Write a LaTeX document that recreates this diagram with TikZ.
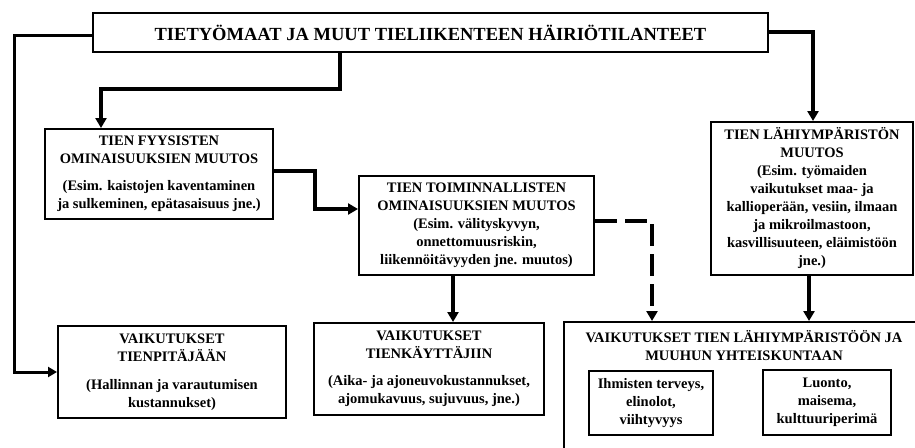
\documentclass[tikz,border=0pt]{standalone}
\usepackage{fontspec}
\setmainfont{Liberation Serif}
\usetikzlibrary{arrows.meta}
\tikzset{
  box/.style={draw=black, line width=2pt, align=center, inner sep=0pt, text=black,
    font=\bfseries\fontsize{14.5}{18}\selectfont},
  titlebox/.style={box, line width=2.8pt, font=\bfseries\fontsize{18.5}{22}\selectfont},
  txt/.style={align=center, inner sep=0pt, text=black, font=\bfseries\fontsize{14.5}{18}\selectfont},
  conn/.style={line width=3.6pt, -{Triangle[length=10pt,width=11pt]}},
  thinconn/.style={line width=3pt, -{Triangle[length=9pt,width=10pt]}},
  dashconn/.style={conn, dash pattern=on 22pt off 8pt}
}
\begin{document}
\begin{tikzpicture}[x=1pt,y=-1pt]
\path[use as bounding box, clip] (0,0) rectangle (915,447);
\fill[white] (0,0) rectangle (915,447);

\node[titlebox, minimum width=675pt, minimum height=39pt] (title) at (430.5,32.5)
  {TIETYÖMAAT JA MUUT TIELIIKENTEEN HÄIRIÖTILANTEET};

\node[box, minimum width=228pt, minimum height=90pt] (fyys) at (159,174)
  {TIEN FYYSISTEN\\OMINAISUUKSIEN MUUTOS\\[9pt](Esim. kaistojen kaventaminen\\ja sulkeminen, epätasaisuus jne.)};

\node[box, minimum width=235pt, minimum height=99pt] (toim) at (476.5,225.5)
  {TIEN TOIMINNALLISTEN\\OMINAISUUKSIEN MUUTOS\\(Esim. välityskyvyn,\\onnettomuusriskin,\\liikennöitävyyden jne. muutos)};

\node[box, minimum width=202pt, minimum height=153pt] (lahi) at (812,198.5)
  {TIEN LÄHIYMPÄRISTÖN\\MUUTOS\\(Esim. työmaiden\\vaikutukset maa- ja\\kallioperään, vesiin, ilmaan\\ja mikroilmastoon,\\kasvillisuuteen, eläimistöön\\jne.)};

\node[box, minimum width=228pt, minimum height=92pt] (pita) at (172,372)
  {VAIKUTUKSET\\TIENPITÄJÄÄN\\[10pt](Hallinnan ja varautumisen\\kustannukset)};

\node[box, minimum width=230pt, minimum height=92pt] (kayt) at (429,369)
  {VAIKUTUKSET\\TIENKÄYTTÄJIIN\\[9pt](Aika- ja ajoneuvokustannukset,\\ajomukavuus, sujuvuus, jne.)};

\node[box, minimum width=360pt, minimum height=138pt] (big) at (744,391) {};
\node[txt, anchor=north] (bigt) at (744,330)
  {VAIKUTUKSET TIEN LÄHIYMPÄRISTÖÖN JA\\MUUHUN YHTEISKUNTAAN};

\node[box, minimum width=124pt, minimum height=64pt] (in1) at (651,403)
  {Ihmisten terveys,\\elinolot,\\viihtyvyys};
\node[box, minimum width=128pt, minimum height=65pt] (in2) at (827,402.5)
  {Luonto,\\maisema,\\kulttuuriperimä};

\coordinate (c1) at (340,89);
\coordinate (c2) at (101,89);
\coordinate (c3) at (14,35);
\coordinate (c4) at (813,32);
\coordinate (c5) at (315,171);
\coordinate (c6) at (315,209);
\coordinate (c7) at (453,300);
\coordinate (c8) at (652,221);
\coordinate (c9) at (809,300);

\draw[conn] (title.south -| c1) -- (c1) -- (c2) -- (fyys.north -| c2);
\draw[thinconn] (title.west |- c3) -- (c3) |- (pita.west);
\draw[conn] (title.east |- c4) -- (c4) -- (lahi.north -| c4);
\draw[conn] (fyys.east |- c5) -- (c5) -- (c6) -- (toim.west |- c6);
\draw[conn] (toim.south -| c7) -- (kayt.north -| c7);
\draw[dashconn] (toim.east |- c8) -- (c8) -- (big.north -| c8);
\draw[conn] (lahi.south -| c9) -- (big.north -| c9);
\end{tikzpicture}
\end{document}
